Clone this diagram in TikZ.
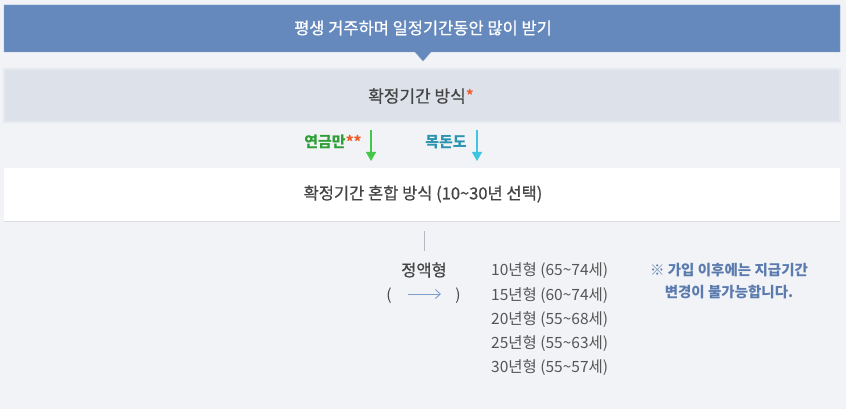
\documentclass[tikz,border=0pt]{standalone}
\usepackage{fontspec}
\setmainfont{Noto Sans CJK KR}
\newfontfamily\medfont[FakeBold=0.7]{Noto Sans CJK KR}
\usetikzlibrary{arrows.meta}
\definecolor{pagebg}{HTML}{F1F3F7}
\definecolor{barblue}{HTML}{6589BD}
\definecolor{bandgray}{HTML}{DDE2EA}
\definecolor{bandedge}{HTML}{E6EAF0}
\definecolor{textdark}{HTML}{444444}
\definecolor{textlist}{HTML}{555555}
\definecolor{starred}{HTML}{F05A28}
\definecolor{greentext}{HTML}{2E9E36}
\definecolor{greenarrow}{HTML}{45C74A}
\definecolor{tealtext}{HTML}{2A93AE}
\definecolor{cyanarrow}{HTML}{3FC4E2}
\definecolor{noteblue}{HTML}{5B7BAE}
\definecolor{linegray}{HTML}{B5B9C0}
\definecolor{smallarrow}{HTML}{7C9CD0}
\tikzset{
  txt/.style={font=\fontsize{15.5}{18}\selectfont, inner sep=0pt},
  medtxt/.style={font=\fontsize{16.5}{19}\selectfont\medfont, inner sep=0pt, text=textdark},
  downarrow/.style={line width=1.4pt, -{Triangle[width=10pt,length=9pt]}},
}
\begin{document}
\begin{tikzpicture}[x=1pt,y=1pt,yscale=-1]
        \fill [pagebg] (0,0) rectangle (846,409);
        \useasboundingbox (0,0) rectangle (846,409);
        % top bar with pointer
        \draw [fill=barblue, draw=barblue!80!white] (4,5) -- (840,5) -- (840,52) -- (431,52) -- (423,61) -- (415,52) -- (4,52) -- cycle ;
        \node (title) [txt, font=\fontsize{16.5}{19}\selectfont\medfont, text=white] at (423,28) {평생 거주하며 일정기간동안 많이 받기};
        % fixed period band
        \draw [fill=bandgray, draw=bandedge, line width=1.2pt] (4,69) -- (840,69) -- (840,122) -- (4,122) -- cycle ;
        \node (fixed) [medtxt, font=\fontsize{17}{19}\selectfont\medfont] at (421,96) {확정기간 방식\textcolor{starred}{*}};
        % choice labels
        \node (annuity) [txt, font=\fontsize{15}{17}\selectfont\bfseries, text=greentext] at (333,142) {연금만\textcolor{starred}{**}};
        \node (lump) [txt, font=\fontsize{15}{17}\selectfont\bfseries, text=tealtext] at (446,142) {목돈도};
        \coordinate (ga1) at (371,130);
        \coordinate (ga2) at (371,161);
        \coordinate (ca1) at (477,130);
        \coordinate (ca2) at (477,161);
        \draw [downarrow, greenarrow] (ga1) -- (ga2);
        \draw [downarrow, cyanarrow] (ca1) -- (ca2);
        % mixed band
        \draw [fill=white, draw=none] (4,168) -- (840,168) -- (840,221) -- (4,221) -- cycle ;
        \draw [color=linegray!50] (4,221) -- (840,221);
        \node (mixed) [medtxt] at (423,194) {확정기간 혼합 방식 (10\char"007E 30년 선택)};
        % flat type
        \coordinate (vl1) at (424,231);
        \coordinate (vl2) at (424,251);
        \draw [color=linegray, line width=0.9pt] (vl1) -- (vl2);
        \node (flat) [medtxt] at (424,270) {정액형};
        \node (lpar) [txt, text=textdark] at (389,296) {(};
        \node (rpar) [txt, text=textdark] at (458,296) {)};
        \coordinate (sa1) at (408,294);
        \coordinate (sa2) at (441,294);
        \draw [color=smallarrow, line width=0.9pt, -{Straight Barb[length=5pt,width=9pt]}] (sa1) -- (sa2);
        % periods
        \node (p10) [txt, anchor=west, text=textlist] at (491,271) {10년형 (65\char"007E 74세)};
        \node (p15) [txt, anchor=west, text=textlist] at (491,296) {15년형 (60\char"007E 74세)};
        \node (p20) [txt, anchor=west, text=textlist] at (491,320) {20년형 (55\char"007E 68세)};
        \node (p25) [txt, anchor=west, text=textlist] at (491,344) {25년형 (55\char"007E 63세)};
        \node (p30) [txt, anchor=west, text=textlist] at (491,368) {30년형 (55\char"007E 57세)};
        % note
        \node (note) [txt, font=\fontsize{14.5}{22}\selectfont\bfseries, text=noteblue, align=center] at (729,281) {※ 가입 이후에는 지급기간\\변경이 불가능합니다.};
    \end{tikzpicture}
\end{document}
